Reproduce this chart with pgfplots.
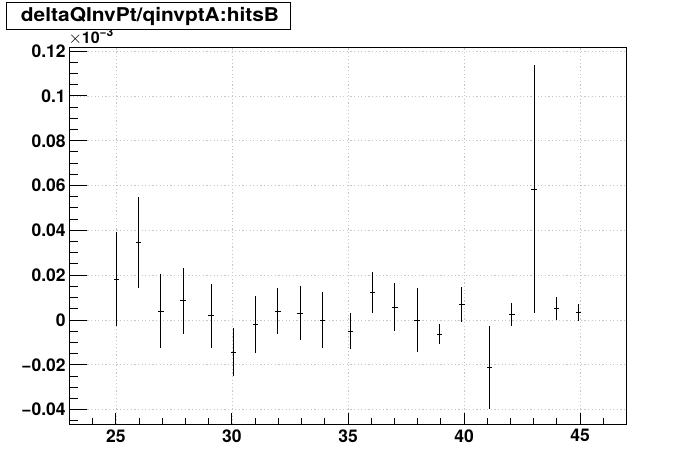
\documentclass[border=0pt]{standalone}
\usepackage{fontspec}
\setmainfont{TeX Gyre Heros}
\usepackage{pgfplots}
\pgfplotsset{compat=1.18}
\usepackage{pgfplotstable}
\pgfplotstableread{
x      y        ex    ey
25.02  0.0183   0.12  0.0209
25.98  0.0344   0.12  0.0203
26.94  0.0040   0.12  0.0164
27.90  0.0085   0.12  0.0149
29.10  0.0018   0.12  0.0144
30.06  -0.0143  0.12  0.0109
31.02  -0.0022  0.12  0.0127
31.98  0.0040   0.12  0.0102
32.94  0.0031   0.12  0.0122
33.90  0.0000   0.12  0.0127
35.10  -0.0049  0.12  0.0080
36.06  0.0123   0.12  0.0091
37.02  0.0057   0.12  0.0107
37.98  0.0000   0.12  0.0143
38.94  -0.0064  0.12  0.0045
39.90  0.0070   0.12  0.0078
41.10  -0.0211  0.12  0.0184
42.06  0.0025   0.12  0.0052
43.02  0.0583   0.12  0.0553
43.98  0.0052   0.12  0.0050
44.94  0.0034   0.12  0.0039
}\datatable
\begin{document}
\begin{tikzpicture}[x=1pt,y=1pt]
\useasboundingbox (0,0) rectangle (696,472);
\begin{axis}[
  at={(69.5pt,48pt)}, anchor=south west,
  scale only axis, width=557pt, height=376.7pt,
  xmin=23, xmax=47, ymin=-0.0464, ymax=0.1217,
  scaled x ticks=false, scaled y ticks=false,
  axis line style={line width=1pt},
  xtick={25,30,35,40,45},
  xticklabels={25,30,35,40,45},
  ytick={-0.04,-0.02,0,0.02,0.04,0.06,0.08,0.1,0.12},
  yticklabels={−0.04,−0.02,0,0.02,0.04,0.06,0.08,0.1,0.12},
  minor xtick={23,24,...,47},
  minor ytick={-0.045,-0.04,...,0.121},
  xtick pos=bottom, ytick pos=left,
  tick align=inside,
  xtick style={black, line width=1pt, /pgfplots/major tick length=11.3pt, /pgfplots/minor tick length=5.6pt},
  ytick style={black, line width=1pt, /pgfplots/major tick length=17pt, /pgfplots/minor tick length=8.5pt},
  ticklabel style={font=\fontsize{17.5}{18}\selectfont\bfseries, inner sep=0pt},
  xticklabel style={yshift=-5.3pt},
  yticklabel style={xshift=-3.6pt},
  grid=major,
  major grid style={gray!45, line width=0.8pt, dash pattern=on 1.2pt off 2.4pt},
]
\addplot[draw=none, mark=none,
  error bars/.cd, x dir=both, x explicit, y dir=both, y explicit,
  error mark=none, error bar style={draw=black, line width=1pt}]
  table[x=x, y=y, x error=ex, y error=ey]{\datatable};
\end{axis}
\node[anchor=base west, inner sep=0pt, font=\fontsize{16}{17}\selectfont\bfseries] at (68.3,428.7)
  {$\times$10\raisebox{7pt}{\fontsize{12}{12}\selectfont\bfseries −3}};
\draw[line width=1pt, fill=white] (6,442) rectangle (290.7,469);
\node[anchor=base west, inner sep=0pt] at (20.7,450.3)
  {\scalebox{1.1}[1]{\fontsize{19}{20}\selectfont\bfseries deltaQInvPt/qinvptA:hitsB}};
\end{tikzpicture}
\end{document}
